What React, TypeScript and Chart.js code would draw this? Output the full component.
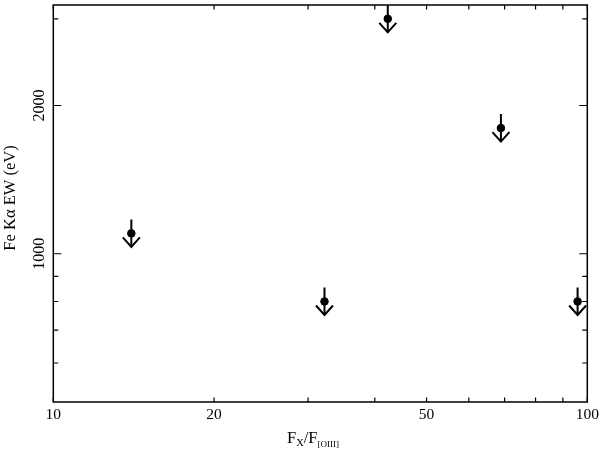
import React, { useEffect, useRef } from "react";
import { Chart, registerables } from "chart.js";

Chart.register(...registerables);

// ---- data ----
const fluxRatio = [14.0, 32.2, 42.3, 68.9, 95.9];
const ewUpperLimit = [1100, 800, 3000, 1800, 800];
const xLabelTicks = [10, 20, 50, 100];
const xMinorTicks = [30, 40, 60, 70, 80, 90];
const yLabelTicks = [1000, 2000];
const yMinorTicks = [600, 700, 800, 900, 3000];
const xRange = [10, 100];
const yRange = [500, 3200];

const SERIF = "'Liberation Serif', 'DejaVu Serif', serif";

const framePlugin = {
  id: "frame",
  afterDatasetsDraw(chart: any) {
    const { ctx, chartArea: a, scales } = chart;
    const xs = scales.x;
    const ys = scales.y;
    ctx.save();
    ctx.beginPath();
    ctx.rect(a.left, a.top, a.right - a.left, a.bottom - a.top);
    ctx.clip();
    ctx.strokeStyle = "#000";
    ctx.lineWidth = 2;
    fluxRatio.forEach((r, i) => {
      const px = xs.getPixelForValue(r);
      const py = ys.getPixelForValue(ewUpperLimit[i]);
      ctx.beginPath();
      ctx.moveTo(px, py - 14);
      ctx.lineTo(px, py + 13.5);
      ctx.stroke();
      ctx.beginPath();
      ctx.moveTo(px - 8.5, py + 4);
      ctx.lineTo(px, py + 13.5);
      ctx.lineTo(px + 8.5, py + 4);
      ctx.stroke();
    });
    ctx.restore();
  },
  afterDraw(chart: any) {
    const { ctx, chartArea: a, scales } = chart;
    const xs = scales.x;
    const ys = scales.y;
    ctx.save();
    ctx.strokeStyle = "#000";
    ctx.lineWidth = 1.5;
    ctx.strokeRect(a.left, a.top, a.right - a.left, a.bottom - a.top);

    ctx.lineWidth = 1.2;
    const xt = [...xLabelTicks, ...xMinorTicks];
    xt.forEach((v) => {
      const p = xs.getPixelForValue(v);
      ctx.beginPath();
      ctx.moveTo(p, a.bottom);
      ctx.lineTo(p, a.bottom - 4.5);
      ctx.moveTo(p, a.top);
      ctx.lineTo(p, a.top + 4.5);
      ctx.stroke();
    });
    const yt: [number, number][] = [
      ...yLabelTicks.map((v) => [v, 8] as [number, number]),
      ...yMinorTicks.map((v) => [v, 5] as [number, number]),
    ];
    yt.forEach(([v, len]) => {
      const p = ys.getPixelForValue(v);
      ctx.beginPath();
      ctx.moveTo(a.left, p);
      ctx.lineTo(a.left + len, p);
      ctx.moveTo(a.right, p);
      ctx.lineTo(a.right - len, p);
      ctx.stroke();
    });

    ctx.fillStyle = "#000";
    ctx.font = `16px ${SERIF}`;
    ctx.textAlign = "center";
    ctx.textBaseline = "alphabetic";
    yLabelTicks.forEach((v) => {
      const p = ys.getPixelForValue(v);
      ctx.save();
      ctx.translate(43.5, p);
      ctx.rotate(-Math.PI / 2);
      ctx.fillText(String(v), 0, 0);
      ctx.restore();
    });

    ctx.save();
    ctx.font = `16.5px ${SERIF}`;
    ctx.translate(15, 198);
    ctx.rotate(-Math.PI / 2);
    ctx.textAlign = "center";
    ctx.fillText("Fe K\u03b1 EW (eV)", 0, 0);
    ctx.restore();

    const parts: [string, number, number][] = [
      ["F", 16.5, 0],
      ["X", 10.5, 3],
      ["/F", 16.5, 0],
      ["[OIII]", 9, 4],
    ];
    let total = 0;
    parts.forEach(([t, s]) => {
      ctx.font = `${s}px ${SERIF}`;
      total += ctx.measureText(t).width;
    });
    let x = 313 - total / 2;
    const base = 443;
    ctx.textAlign = "left";
    parts.forEach(([t, s, dy]) => {
      ctx.font = `${s}px ${SERIF}`;
      ctx.fillText(t, x, base + dy);
      x += ctx.measureText(t).width;
    });
    ctx.restore();
  },
};

export default function App() {
  const ref = useRef<HTMLCanvasElement | null>(null);
  useEffect(() => {
    if (!ref.current) return;
    const chart = new Chart(ref.current, {
      type: "scatter",
      data: {
        datasets: [
          {
            data: fluxRatio.map((x, i) => ({ x, y: ewUpperLimit[i] })),
            backgroundColor: "#000",
            borderColor: "#000",
            pointRadius: 3.8,
            pointHoverRadius: 3.8,
          },
        ],
      },
      options: {
        responsive: false,
        animation: false,
        devicePixelRatio: 1,
        layout: { padding: { left: 0, right: 12.7, top: 5, bottom: 0 } },
        plugins: {
          legend: { display: false },
          tooltip: { enabled: false },
        },
        scales: {
          x: {
            type: "logarithmic",
            min: xRange[0],
            max: xRange[1],
            grid: { display: false, drawTicks: false },
            border: { display: false },
            afterBuildTicks: (s: any) => {
              s.ticks = xLabelTicks.map((v) => ({ value: v }));
            },
            afterFit: (s: any) => {
              s.height = 47;
              s.paddingRight = 0;
              s.paddingLeft = 0;
            },
            ticks: {
              color: "#000",
              padding: 4,
              maxRotation: 0,
              autoSkip: false,
              font: { family: SERIF, size: 15.5 },
              callback: (v: any) => String(v),
            },
          },
          y: {
            type: "logarithmic",
            min: yRange[0],
            max: yRange[1],
            grid: { display: false, drawTicks: false },
            border: { display: false },
            ticks: { display: false },
            afterFit: (s: any) => {
              s.width = 53.3;
            },
          },
        },
      },
      plugins: [framePlugin],
    } as any);
    return () => chart.destroy();
  }, []);
  return (
    <div style={{ position: "absolute", left: 0, top: 0, width: 600, height: 449, background: "#fff" }}>
      <canvas ref={ref} width={600} height={449} />
    </div>
  );
}
